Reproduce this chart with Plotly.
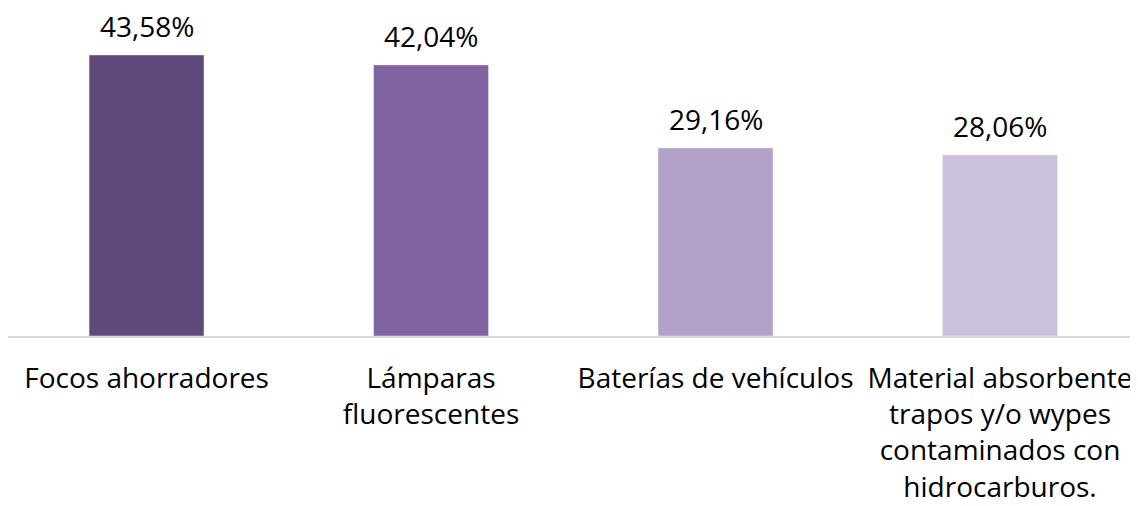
import plotly.graph_objects as go

categorias = [
    "Focos ahorradores",
    "Lámparas<br>fluorescentes",
    "Baterías de vehículos",
    "Material absorbente<br>trapos y/o wypes<br>contaminados con<br>hidrocarburos.",
]
porcentajes = [43.58, 42.04, 29.16, 28.06]
etiquetas = ["43,58%", "42,04%", "29,16%", "28,06%"]
colores = ["#604A7B", "#8064A2", "#B3A2C7", "#CCC1DA"]

fuente = "'Open Sans', Lato, sans-serif"

fig = go.Figure()
fig.add_trace(go.Bar(
    x=categorias,
    y=porcentajes,
    marker_color=colores,
    width=0.404,
    hoverinfo="skip",
))

# etiquetas de datos sobre cada barra
for cat, val, txt in zip(categorias, porcentajes, etiquetas):
    fig.add_annotation(
        x=cat, y=val, text=txt, showarrow=False,
        yanchor="bottom", yshift=8,
        font=dict(family=fuente, size=28, color="#000000"),
    )

# la página añade 8px de margen al cuerpo, se compensa aquí
fig.update_layout(
    width=1130, height=498,
    margin=dict(l=0, r=0, t=0, b=170),
    paper_bgcolor="white",
    plot_bgcolor="white",
    showlegend=False,
    font=dict(family=fuente, color="#000000"),
    xaxis=dict(
        range=[-0.487, 3.485],
        showline=True, linecolor="#D9D9D9", linewidth=2,
        showgrid=False, ticks="",
        tickfont=dict(family=fuente, size=28, color="#000000"),
        ticklabelstandoff=16,
        automargin=False,
    ),
    yaxis=dict(
        range=[0, 50.86],
        visible=False,
        showgrid=False, zeroline=False,
    ),
)

fig.write_html("out.html")
